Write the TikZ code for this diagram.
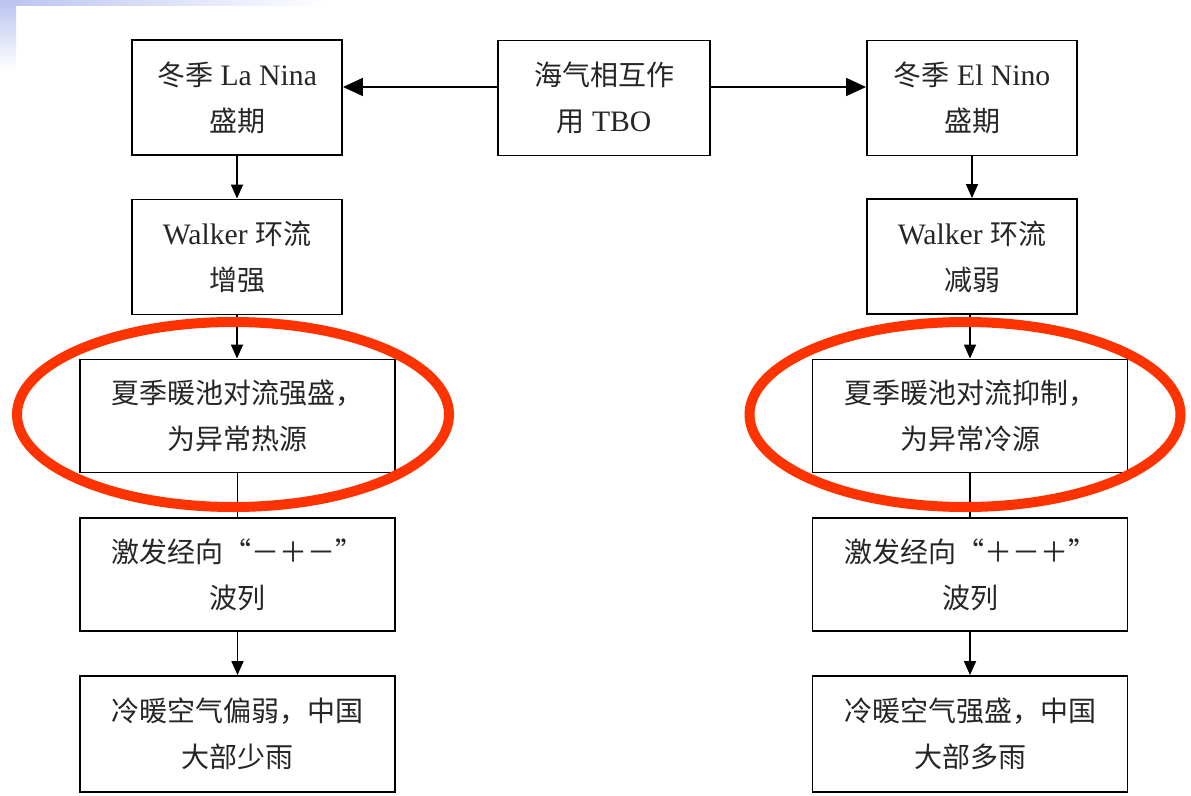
\documentclass[tikz,border=0pt]{standalone}
\usepackage{fontspec}
\setmainfont{Liberation Serif}[Scale=1.06]
\newfontfamily\cjk{Noto Sans CJK SC}
\usetikzlibrary{arrows.meta}
\newcommand\zhs[1]{{\cjk #1}}
\definecolor{hilite}{RGB}{255,51,0}
\definecolor{slideblue}{RGB}{185,195,240}
\tikzset{
  box/.style={draw, line width=1.9pt, align=center, inner sep=0pt,
    font=\fontsize{28}{46}\selectfont, text=black!85},
  narrowbox/.style={box, minimum width=210pt, minimum height=115pt},
  widebox/.style={box, minimum width=315pt, minimum height=113pt},
  varr/.style={line width=1.8pt, -{Triangle[length=14pt,width=12pt]}},
  harr/.style={line width=1.8pt, -{Triangle[length=20pt,width=18pt]}},
  plainline/.style={line width=1.8pt},
  ring/.style={draw=hilite, line width=10pt}
}
\begin{document}
\begin{tikzpicture}[x=1pt,y=-1pt]
\useasboundingbox (0,0) rectangle (1191,795);
\fill[white] (0,0) rectangle (1191,795);
\shade[left color=slideblue, right color=white] (0,0) rectangle (330,5);
\shade[top color=slideblue, bottom color=white] (0,0) rectangle (16,70);

\node[narrowbox] (lanina) at (237,97.5) {\zhs{冬季} La Nina\\\zhs{盛期}};
\node[narrowbox, minimum width=212pt] (tbo) at (604,98) {\zhs{海气相互作}\\\zhs{用} TBO};
\node[narrowbox] (elnino) at (972,98) {\zhs{冬季} El Nino\\\zhs{盛期}};
\node[narrowbox] (walkerL) at (237,257) {Walker \zhs{环流}\\\zhs{增强}};
\node[narrowbox] (walkerR) at (972,256.5) {Walker \zhs{环流}\\\zhs{减弱}};
\node[widebox] (heatL) at (237.5,416) {\zhs{夏季暖池对流强盛，}\\\zhs{为异常热源}};
\node[widebox] (coldR) at (970,416) {\zhs{夏季暖池对流抑制，}\\\zhs{为异常冷源}};
\node[widebox] (waveL) at (237.5,574.5) {\zhs{激发经向“－＋－”}\\\zhs{波列}};
\node[widebox] (waveR) at (970,574.5) {\zhs{激发经向“＋－＋”}\\\zhs{波列}};
\node[widebox, minimum height=116pt] (rainL) at (237.5,734) {\zhs{冷暖空气偏弱，中国}\\\zhs{大部少雨}};
\node[widebox, minimum height=116pt] (rainR) at (970,734) {\zhs{冷暖空气强盛，中国}\\\zhs{大部多雨}};

\coordinate (arrowy) at (0,87);
\draw[harr] (tbo.west |- arrowy) -- (lanina.east |- arrowy);
\draw[harr] (tbo.east |- arrowy) -- (elnino.west |- arrowy);

\draw[varr] (lanina.south) -- (walkerL.north);
\draw[varr] (walkerL.south) -- (walkerL.south |- heatL.north);
\draw[plainline] (heatL.south) -- (waveL.north);
\draw[varr] (waveL.south) -- (rainL.north);

\draw[varr] (elnino.south) -- (walkerR.north);
\draw[varr] (walkerR.south -| coldR.north) -- (coldR.north);
\draw[plainline] (coldR.south) -- (waveR.north);
\draw[varr] (waveR.south) -- (rainR.north);

\draw[ring] (233,414.5) ellipse [x radius=216pt, y radius=92.5pt];
\draw[ring] (965,414.5) ellipse [x radius=215.5pt, y radius=92.5pt];
\end{tikzpicture}
\end{document}
